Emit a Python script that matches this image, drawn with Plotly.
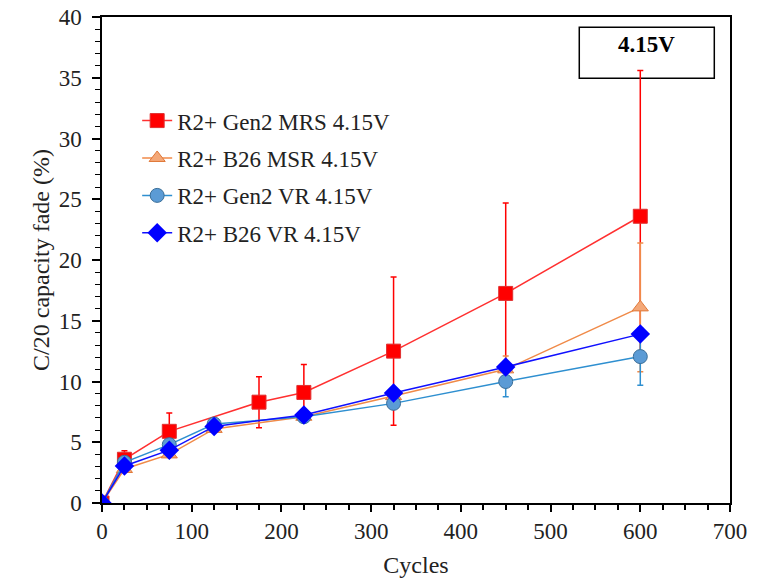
import plotly.graph_objects as go

# Data
cycles_mrs = [0, 25, 75, 175, 225, 325, 450, 600]
gen2_mrs = [0, 3.6, 5.9, 8.3, 9.1, 12.5, 17.25, 23.6]
gen2_mrs_err = [0, 0.7, 1.5, 2.1, 2.3, 6.1, 7.45, 12.0]

cycles = [0, 25, 75, 125, 225, 325, 450, 600]
b26_msr = [0, 2.8, 4.0, 6.1, 7.1, 8.8, 11.0, 16.1]
b26_msr_err = [0, 0, 0, 0, 0, 0, 1.1, 5.3]
gen2_vr = [0, 3.35, 4.8, 6.5, 7.1, 8.2, 10.0, 12.05]
gen2_vr_err = [0, 0, 0, 0, 0, 0, 1.25, 2.35]
b26_vr = [0, 3.05, 4.35, 6.3, 7.25, 9.05, 11.2, 13.9]

font = "Liberation Serif"
txt = "#222222"

fig = go.Figure()

fig.add_trace(go.Scatter(
    x=cycles_mrs, y=gen2_mrs, name="R2+ Gen2 MRS 4.15V", mode="lines+markers", legendgroup="a",
    line=dict(color="#FF3030", width=1.5),
    marker=dict(symbol="square", size=14, color="#FF0000", line=dict(color="#E03030", width=1)),
    error_y=dict(type="data", array=gen2_mrs_err, visible=True, color="#FF0000", thickness=1.5, width=3),
))
fig.add_trace(go.Scatter(
    x=cycles, y=b26_msr, name="R2+ B26 MSR 4.15V", mode="lines+markers", legendgroup="b",
    line=dict(color="#F08A48", width=1.5),
    marker=dict(symbol="triangle-up", size=14, color="#F4A878", line=dict(color="#E07838", width=1)),
    error_y=dict(type="data", array=b26_msr_err, visible=True, color="#F08A48", thickness=1.5, width=3),
))
fig.add_trace(go.Scatter(
    x=cycles, y=gen2_vr, name="R2+ Gen2 VR 4.15V", mode="lines+markers", legendgroup="c",
    line=dict(color="#2E8FD0", width=1.5),
    marker=dict(symbol="circle", size=14, color="#5B9BD5", line=dict(color="#3A6E98", width=1)),
    error_y=dict(type="data", array=gen2_vr_err, visible=True, color="#2E8FD0", thickness=1.5, width=3),
))
fig.add_trace(go.Scatter(
    x=cycles, y=b26_vr, name="R2+ B26 VR 4.15V", mode="lines+markers", legendgroup="d",
    line=dict(color="#1010FF", width=1.5),
    marker=dict(symbol="diamond", size=15, color="#0000FF", line=dict(color="#0000FF", width=0)),
))

axis_common = dict(
    showline=True, linecolor="black", linewidth=1.5, mirror=True, automargin=False,
    showgrid=False, zeroline=False, ticks="outside", tickcolor="black",
    tickfont=dict(family=font, size=23, color=txt),
)

fig.update_xaxes(
    range=[0, 700], dtick=100, ticklen=7, tickwidth=1.5, ticklabelstandoff=0,
    minor=dict(dtick=25, ticks="outside", ticklen=5, tickcolor="black", tickwidth=1.5),
    title=dict(text="Cycles", font=dict(family=font, size=24, color=txt), standoff=13),
    **axis_common,
)
fig.update_yaxes(
    range=[0, 40], dtick=5, ticklen=8, tickwidth=1.5, ticklabelstandoff=6,
    minor=dict(dtick=1, ticks="outside", ticklen=5, tickcolor="black", tickwidth=1.2),
    title=dict(text="C/20 capacity fade (%)", font=dict(family=font, size=24, color=txt), standoff=2),
    **axis_common,
)

fig.add_shape(type="rect", xref="paper", yref="paper", x0=0.760, x1=0.975, y0=0.874, y1=0.979,
              line=dict(color="black", width=1.5), fillcolor="rgba(0,0,0,0)", layer="below")
fig.add_annotation(xref="paper", yref="paper", x=0.867, y=0.944, xanchor="center", yanchor="middle",
                   text="<b>4.15V</b>", showarrow=False, font=dict(family=font, size=23, color="black"))

fig.update_layout(
    width=768, height=581,
    margin=dict(l=102, r=38, t=17, b=78),
    paper_bgcolor="white", plot_bgcolor="white",
    legend=dict(x=0.056, y=0.831, xanchor="left", yanchor="top",
                font=dict(family=font, size=23, color=txt),
                bgcolor="rgba(0,0,0,0)", traceorder="grouped", tracegroupgap=4.5, itemwidth=30),
    showlegend=True,
)

fig.write_html("out.html", config={"displayModeBar": False},
               post_script="document.body.style.margin='0px';")
